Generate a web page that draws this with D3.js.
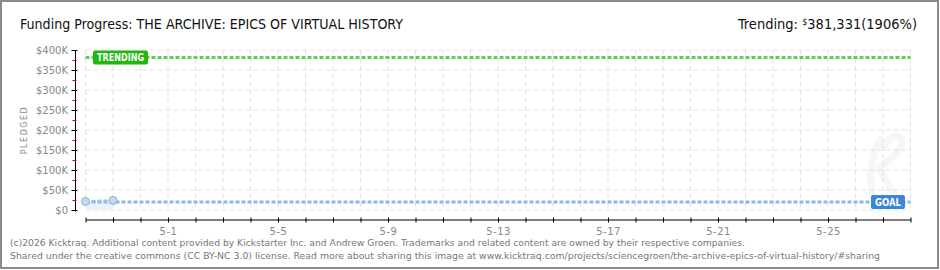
<!DOCTYPE html>
<html>
<head>
<meta charset="utf-8">
<script src="https://cdn.jsdelivr.net/npm/d3@7"></script>
<style>
  body { margin: 0; background: #fff; }
  svg { display: block; }
  text { font-family: "DejaVu Sans", sans-serif; }
</style>
</head>
<body>
<svg id="chart" width="940" height="270"></svg>
<script>
// data
const days = ["2026-04-28", "2026-04-29"];
const pledged = [21500, 23800];
const goal = 20000;
const trending = 381331;
const trendingPct = 1906;
const yTicks = [0, 50000, 100000, 150000, 200000, 250000, 300000, 350000, 400000];
const projectTitle = "THE ARCHIVE: EPICS OF VIRTUAL HISTORY";
const startDay = "2026-04-28";
const endDay = "2026-05-28";

const width = 940, height = 270;
const plotLeft = 85.5, plotRight = 910.5, plotTop = 50, plotBottom = 210;

const parse = d3.timeParse("%Y-%m-%d");
const svg = d3.select("#chart");

const x = d3.scaleTime()
  .domain([parse(startDay), parse(endDay)])
  .range([plotLeft, plotRight]);
const y = d3.scaleLinear()
  .domain([0, 400000])
  .range([plotBottom, plotTop]);

// outer frame
svg.append("rect")
  .attr("x", 1).attr("y", 1)
  .attr("width", width - 3).attr("height", height - 3)
  .attr("fill", "#fff")
  .attr("stroke", "#8a8a8a")
  .attr("stroke-width", 2);

// title
svg.append("text")
  .attr("x", 20).attr("y", 29)
  .attr("font-stretch", "condensed")
  .attr("font-size", 14.5)
  .attr("fill", "#111")
  .attr("textLength", 383)
  .attr("lengthAdjust", "spacingAndGlyphs")
  .text("Funding Progress: " + projectTitle);

const tr = svg.append("text")
  .attr("x", 738).attr("y", 29)
  .attr("font-stretch", "condensed")
  .attr("font-size", 14.5)
  .attr("fill", "#111")
  .attr("textLength", 179)
  .attr("lengthAdjust", "spacingAndGlyphs");
tr.append("tspan").text("Trending:  ");
tr.append("tspan").attr("font-size", 9).attr("dy", -4).text("$");
tr.append("tspan").attr("dy", 4).text(d3.format(",")(trending) + "(" + trendingPct + "%)");

// faint watermark (logo shape)
svg.append("path")
  .attr("d", "M872,196 C868,170 874,150 880,140 M876,170 C890,160 904,150 902,140 C898,132 888,138 884,146 M880,170 C886,180 892,192 898,198")
  .attr("fill", "none")
  .attr("stroke", "#f6f6f6")
  .attr("stroke-width", 7)
  .attr("stroke-linecap", "round");

// grid
const allDays = d3.timeDay.range(parse(startDay), d3.timeDay.offset(parse(endDay), 1));
svg.append("g")
  .selectAll("line")
  .data(allDays)
  .join("line")
  .attr("x1", d => x(d)).attr("x2", d => x(d))
  .attr("y1", plotTop).attr("y2", plotBottom)
  .attr("stroke", "#e2e2e2")
  .attr("stroke-dasharray", "5,3");
svg.append("g")
  .selectAll("line")
  .data(yTicks)
  .join("line")
  .attr("x1", plotLeft).attr("x2", plotRight)
  .attr("y1", d => y(d)).attr("y2", d => y(d))
  .attr("stroke", "#e2e2e2")
  .attr("stroke-dasharray", "5,3");

// area under pledged
const pts = days.map((d, i) => ({ date: parse(d), value: pledged[i] }));
svg.append("path")
  .datum(pts)
  .attr("fill", "#eaf2fc")
  .attr("d", d3.area().x(d => x(d.date)).y0(y(0)).y1(d => y(d.value)));

// goal line
svg.append("line")
  .attr("x1", plotLeft).attr("x2", plotRight)
  .attr("y1", y(goal)).attr("y2", y(goal))
  .attr("stroke", "#8db6e6")
  .attr("stroke-width", 3)
  .attr("stroke-dasharray", "4,2");

// trending line
svg.append("line")
  .attr("x1", plotLeft).attr("x2", plotRight)
  .attr("y1", y(trending)).attr("y2", y(trending))
  .attr("stroke", "#62cc5a")
  .attr("stroke-width", 3)
  .attr("stroke-dasharray", "4,2");

// pledged line + points
svg.append("path")
  .datum(pts)
  .attr("fill", "none")
  .attr("stroke", "#9cc0ea")
  .attr("stroke-width", 2.5)
  .attr("stroke-dasharray", "4,2")
  .attr("d", d3.line().x(d => x(d.date)).y(d => y(d.value)));
svg.append("g")
  .selectAll("circle")
  .data(pts)
  .join("circle")
  .attr("cx", d => x(d.date)).attr("cy", d => y(d.value))
  .attr("r", 4)
  .attr("fill", "#c0d9f6")
  .attr("stroke", "#8fb0d8")
  .attr("stroke-width", 1);

// labels on lines
function tag(label, xPos, yPos, w, fill) {
  svg.append("rect")
    .attr("x", xPos).attr("y", yPos - 7)
    .attr("width", w).attr("height", 14)
    .attr("rx", 2)
    .attr("fill", fill);
  svg.append("text")
    .attr("x", xPos + 4).attr("y", yPos + 4)
    .attr("font-size", 10)
    .attr("font-weight", "bold")
    .attr("fill", "#fff")
    .attr("textLength", w - 8)
    .attr("lengthAdjust", "spacingAndGlyphs")
    .text(label);
}
tag("TRENDING", 93, y(trending), 55, "#1eb80e");
tag("GOAL", 871, y(goal), 34, "#3b86d6");

// y axis
const ax = 75.5;
svg.append("line")
  .attr("x1", ax).attr("x2", ax)
  .attr("y1", plotTop).attr("y2", plotBottom + 1.5)
  .attr("stroke", "#000");
svg.append("g")
  .selectAll("line")
  .data(yTicks)
  .join("line")
  .attr("x1", ax - 4).attr("x2", ax + 2)
  .attr("y1", d => Math.round(y(d)) + 0.5).attr("y2", d => Math.round(y(d)) + 0.5)
  .attr("stroke", "#000");
svg.append("g")
  .selectAll("line")
  .data(yTicks.slice(0, -1))
  .join("line")
  .attr("x1", ax - 3).attr("x2", ax + 1)
  .attr("y1", d => Math.round(y(d + 25000)) + 0.5).attr("y2", d => Math.round(y(d + 25000)) + 0.5)
  .attr("stroke", "#e00000");
svg.append("g")
  .selectAll("text")
  .data(yTicks)
  .join("text")
  .attr("x", 68).attr("y", d => y(d) + 4)
  .attr("text-anchor", "end")
  .attr("font-size", 10)
  .attr("fill", "#888")
  .text(d => d === 0 ? "$0" : "$" + d / 1000 + "K");
svg.append("text")
  .attr("transform", "translate(27,130) rotate(-90)")
  .attr("text-anchor", "middle")
  .attr("font-size", 8)
  .attr("letter-spacing", 1.5)
  .attr("fill", "#888")
  .text("PLEDGED");

// x axis
const xAxis = d3.axisBottom(x)
  .ticks(d3.timeDay.every(1))
  .tickSizeInner(5)
  .tickSizeOuter(0)
  .tickFormat(d => {
    const diff = d3.timeDay.count(parse("2026-05-01"), d);
    return diff >= 0 && diff % 4 === 0 ? d3.timeFormat("%-m-%-d")(d) : "";
  });
const gx = svg.append("g")
  .attr("transform", "translate(0,219.5)")
  .call(xAxis);
gx.select(".domain").attr("stroke", "#000");
gx.selectAll(".tick line").attr("y1", -2).attr("y2", 3).attr("stroke", "#000");
gx.selectAll(".tick text")
  .attr("y", 8)
  .attr("font-family", "DejaVu Sans")
  .attr("font-size", 10)
  .attr("letter-spacing", 0.5)
  .attr("fill", "#888");

// footer
svg.append("text")
  .attr("x", 10).attr("y", 246)
  .attr("font-size", 9.5)
  .attr("fill", "#777")
  .attr("textLength", 735)
  .attr("lengthAdjust", "spacingAndGlyphs")
  .text("(c)2026 Kicktraq. Additional content provided by Kickstarter Inc. and Andrew Groen. Trademarks and related content are owned by their respective companies.");
svg.append("text")
  .attr("x", 10).attr("y", 258.5)
  .attr("font-size", 9.5)
  .attr("fill", "#777")
  .attr("textLength", 870)
  .attr("lengthAdjust", "spacingAndGlyphs")
  .text("Shared under the creative commons (CC BY-NC 3.0) license. Read more about sharing this image at www.kicktraq.com/projects/sciencegroen/the-archive-epics-of-virtual-history/#sharing");
</script>
</body>
</html>
